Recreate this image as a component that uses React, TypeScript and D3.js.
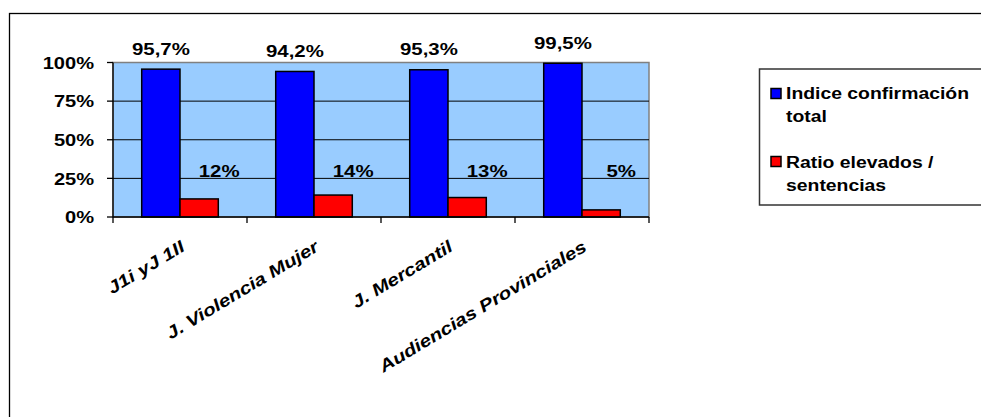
import React from "react";
import * as d3 from "d3";

const categories = ["J1i yJ 1II", "J. Violencia Mujer", "J. Mercantil", "Audiencias Provinciales"];
const seriesNames = ["Indice confirmación total", "Ratio elevados / sentencias"];
const indiceConfirmacion = [0.957, 0.942, 0.953, 0.995];
const ratioElevados = [0.117, 0.142, 0.126, 0.046];
const yTicks = [0, 0.25, 0.5, 0.75, 1];
const colors = ["#0000FF", "#FF0000"];
const legendLines = [["Indice confirmación", "total"], ["Ratio elevados /", "sentencias"]];

const W = 981;
const H = 417;
const FONT = "'Liberation Sans', Arial, sans-serif";

export default function App() {
  const plot = { left: 113, right: 649, top: 62.5, bottom: 217 };
  const x0 = d3.scaleBand<string>().domain(categories).range([plot.left, plot.right]).padding(0);
  const y = d3.scaleLinear().domain([0, 1]).range([plot.bottom, plot.top]);
  const gap = 1.5;
  const barW = x0.bandwidth() / (2 + gap);
  const x1 = d3
    .scaleBand<number>()
    .domain([0, 1])
    .range([(barW * gap) / 2, (barW * gap) / 2 + barW * 2])
    .padding(0);
  const fmtComma = (v: number) => (v * 100).toFixed(1).replace(".", ",") + "%";
  const fmtInt = (v: number) => Math.round(v * 100) + "%";
  const series = [indiceConfirmacion, ratioElevados];
  const catTicks = [...categories.map((c) => x0(c) as number), plot.right];

  return (
    <div style={{ position: "absolute", left: 0, top: 0 }}>
      <svg width={W} height={H} style={{ display: "block", background: "#fff" }} fontFamily={FONT}>
        {/* chart border */}
        <rect x={9.5} y={13.5} width={W + 20} height={H + 20} fill="#fff" stroke="#000" strokeWidth={1.3} />
        {/* plot area */}
        <rect x={plot.left} y={plot.top} width={plot.right - plot.left} height={plot.bottom - plot.top} fill="#99CCFF" stroke="#808080" strokeWidth={1.5} />
        {/* gridlines */}
        {yTicks.slice(1, 4).map((t) => (
          <line key={t} x1={plot.left} x2={plot.right} y1={y(t)} y2={y(t)} stroke="#000" strokeWidth={1} />
        ))}
        {/* bars */}
        {categories.map((c, i) => (
          <g key={c} transform={`translate(${x0(c)},0)`}>
            {series.map((s, k) => (
              <rect
                key={k}
                x={x1(k)}
                y={y(s[i])}
                width={x1.bandwidth()}
                height={plot.bottom - y(s[i])}
                fill={colors[k]}
                stroke="#000"
                strokeWidth={1.5}
              />
            ))}
          </g>
        ))}
        {/* axes */}
        <line x1={plot.left} x2={plot.left} y1={plot.top} y2={plot.bottom} stroke="#000" strokeWidth={1.3} />
        <line x1={plot.left} x2={plot.right} y1={plot.bottom} y2={plot.bottom} stroke="#000" strokeWidth={1.3} />
        {yTicks.map((t) => (
          <g key={t}>
            <line x1={plot.left - 6} x2={plot.left} y1={y(t)} y2={y(t)} stroke="#000" strokeWidth={1.3} />
            <text
              transform={`translate(94,${y(t) + 6.2}) scale(1.18,1)`}
              textAnchor="end"
              fontSize={17}
              fontWeight="bold"
              fill="#000"
            >
              {Math.round(t * 100) + "%"}
            </text>
          </g>
        ))}
        {catTicks.map((tx, i) => (
          <line key={i} x1={tx} x2={tx} y1={plot.bottom} y2={plot.bottom + 6} stroke="#000" strokeWidth={1.3} />
        ))}
        {categories.map((c) => {
          const cx = (x0(c) as number) + x0.bandwidth() / 2 + 6;
          return (
            <text
              key={c}
              transform={`translate(${cx},250) rotate(-31) scale(1.22,1)`}
              textAnchor="end"
              fontSize={17}
              fontWeight="bold"
              fontStyle="italic"
              fill="#000"
            >
              {c}
            </text>
          );
        })}
        {/* data labels */}
        {categories.map((c, i) => {
          const bx = (x0(c) as number) + (x1(0) as number) + x1.bandwidth() / 2;
          const rx = (x0(c) as number) + (x1(1) as number) + x1.bandwidth() / 2 + 20;
          return (
            <g key={c}>
              <text
                transform={`translate(${bx},${y(indiceConfirmacion[i]) - 14.5}) scale(1.2,1)`}
                textAnchor="middle"
                fontSize={17}
                fontWeight="bold"
              >
                {fmtComma(indiceConfirmacion[i])}
              </text>
              <text
                transform={`translate(${rx},${y(0.26)}) scale(1.2,1)`}
                textAnchor="middle"
                fontSize={17}
                fontWeight="bold"
              >
                {fmtInt(ratioElevados[i])}
              </text>
            </g>
          );
        })}
        {/* legend */}
        <rect x={759.5} y={69} width={260} height={136} fill="#fff" stroke="#333" strokeWidth={1.5} />
        {seriesNames.map((name, k) => {
          const top = k === 0 ? 88.5 : 156.5;
          const base = k === 0 ? 99 : 168;
          return (
            <g key={name}>
              <rect x={771} y={top} width={10} height={10} fill={colors[k]} stroke="#000" strokeWidth={1.5} />
              {legendLines[k].map((ln, j) => (
                <text
                  key={j}
                  transform={`translate(786,${base + j * 22.5}) scale(1.14,1)`}
                  fontSize={17}
                  fontWeight="bold"
                >
                  {ln}
                </text>
              ))}
            </g>
          );
        })}
      </svg>
    </div>
  );
}
